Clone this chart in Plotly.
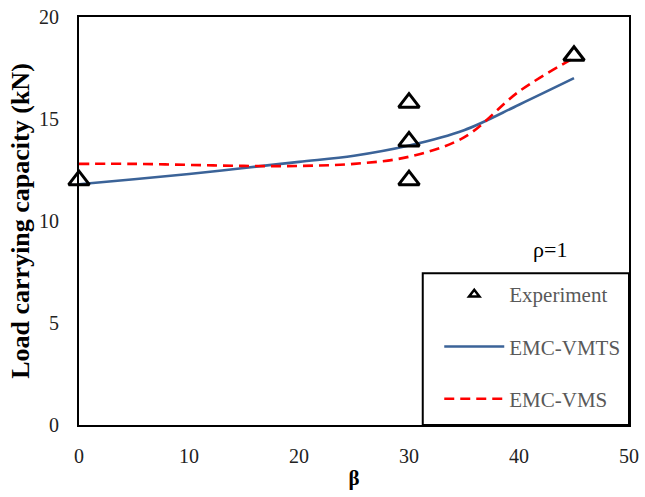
import plotly.graph_objects as go

# ---- data ----
beta_exp = [0, 30, 30, 30, 45]
load_exp = [12.0, 15.8, 13.9, 12.0, 18.1]

beta_curve = [0, 5, 10, 15, 20, 25, 30, 35, 40, 45]
load_vmts = [11.8, 12.05, 12.3, 12.6, 12.9, 13.2, 13.7, 14.45, 15.7, 17.0]
load_vms = [12.8, 12.8, 12.75, 12.7, 12.7, 12.8, 13.15, 14.1, 16.35, 18.0]

x_ticks = [0, 10, 20, 30, 40, 50]
y_ticks = [0, 5, 10, 15, 20]

SERIF = "Liberation Serif"
BLUE = "#3B6398"
RED = "#FF0000"

fig = go.Figure()

fig.add_trace(go.Scatter(
    x=beta_curve, y=load_vmts, mode="lines", name="EMC-VMTS",
    line=dict(color=BLUE, width=2.6, shape="spline"),
    legendgroup="b", legendrank=2,
))
fig.add_trace(go.Scatter(
    x=beta_curve, y=load_vms, mode="lines", name="EMC-VMS",
    line=dict(color=RED, width=2.6, dash="10px,6px", shape="spline"),
    legendgroup="c", legendrank=3,
))
fig.add_trace(go.Scatter(
    x=beta_exp, y=load_exp, mode="markers", name="Experiment",
    marker=dict(symbol="triangle-up-open", size=18, color="black",
                line=dict(color="black", width=3)),
    showlegend=False, cliponaxis=False,
))
# legend proxy with small marker
fig.add_trace(go.Scatter(
    x=[None], y=[None], mode="markers", name="Experiment",
    marker=dict(symbol="triangle-up-open", size=9, color="black",
                line=dict(color="black", width=2.5)),
    legendgroup="a", legendrank=1,
))

axis_common = dict(
    showline=True, linecolor="black", linewidth=2, mirror=True,
    showgrid=False, zeroline=False, ticks="", automargin=False,
    tickfont=dict(family=SERIF, size=20, color="#222222"),
)

fig.update_layout(
    width=645, height=497,
    margin=dict(l=79, r=16, t=17, b=72),
    plot_bgcolor="white", paper_bgcolor="white",
    xaxis=dict(range=[0, 50], tickvals=x_ticks, ticklabelstandoff=12,
               title=dict(text="<b>β</b>", font=dict(family=SERIF, size=21, color="black"),
                          standoff=4),
               **axis_common),
    yaxis=dict(range=[0, 20], tickvals=y_ticks, ticklabelstandoff=14,
               title=dict(text="<b>Load carrying capacity (kN)</b>",
                          font=dict(family=SERIF, size=26, color="black"), standoff=2),
               **axis_common),
    legend=dict(
        x=0.655, y=0.37, xanchor="left", yanchor="top",
        bgcolor="rgba(0,0,0,0)", borderwidth=0,
        font=dict(family=SERIF, size=21, color="#595959"),
        traceorder="grouped", tracegroupgap=22,
        itemwidth=60,
    ),
    shapes=[dict(type="rect", xref="paper", yref="paper",
                 x0=0.625, x1=1.0, y0=0.0, y1=0.372,
                 line=dict(color="black", width=2), fillcolor="rgba(0,0,0,0)")],
    annotations=[dict(text="ρ=1", xref="paper", yref="paper", x=0.891, y=0.43,
                      showarrow=False, font=dict(family=SERIF, size=22, color="black"))],
)

fig.write_html("out.html")
